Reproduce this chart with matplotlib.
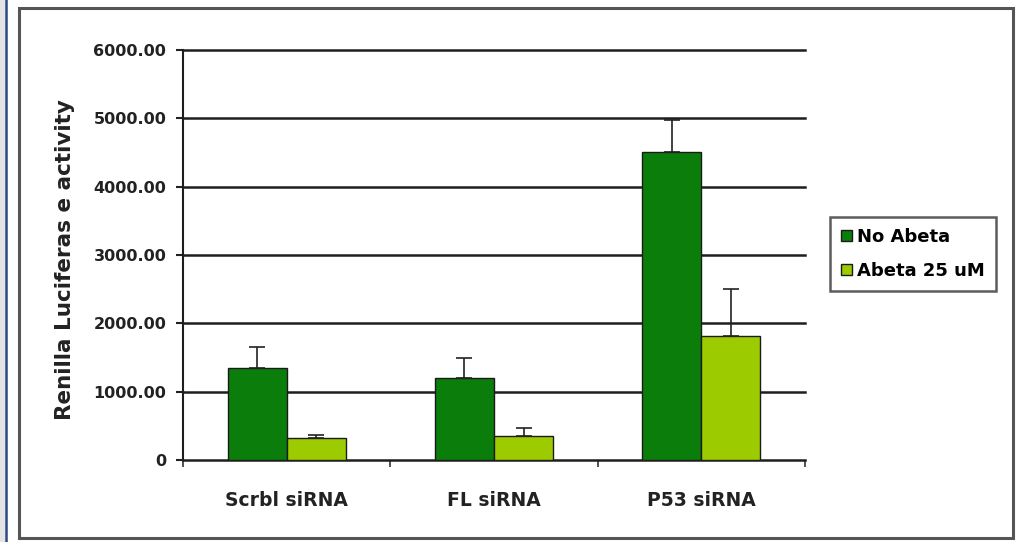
import matplotlib
matplotlib.use("Agg")
import matplotlib.pyplot as plt
import numpy as np
from matplotlib.patches import Rectangle
from matplotlib.lines import Line2D

categories = ["Scrbl siRNA", "FL siRNA", "P53 siRNA"]
series_names = ["No Abeta", "Abeta 25 uM"]
no_abeta = [1340, 1195, 4510]
no_abeta_err = [310, 300, 465]
abeta = [325, 355, 1815]
abeta_err = [40, 110, 685]
yticks = [0, 1000, 2000, 3000, 4000, 5000, 6000]
ytick_labels = ["0", "1000.00", "2000.00", "3000.00", "4000.00", "5000.00", "6000.00"]

dark_green = "#0a7d0a"
light_green = "#9ccc00"

fig = plt.figure(figsize=(10.27, 5.42), dpi=100)
fig.patch.set_facecolor("white")

# page background / frame
fig.patches.append(Rectangle((0, 0), 5/1027, 1, transform=fig.transFigure,
                             facecolor="#e4e4e4", edgecolor="none", zorder=0))
fig.add_artist(Line2D([5.5/1027, 5.5/1027], [0, 1], transform=fig.transFigure,
                      color="#2a4a80", lw=1.8))
fig.patches.append(Rectangle((19/1027, 1 - 538/542), (1013 - 19)/1027, (538 - 8)/542,
                             transform=fig.transFigure, facecolor="none",
                             edgecolor="#555555", lw=2.2, zorder=1))

ax = fig.add_axes([183/1027, 1 - 460/542, (805 - 183)/1027, (460 - 50)/542])
x = np.arange(len(categories))
w = 0.285
ax.bar(x - w/2, no_abeta, w, color=dark_green, edgecolor="#1a1a1a", lw=1.0,
       label=series_names[0], zorder=3)
ax.bar(x + w/2, abeta, w, color=light_green, edgecolor="#1a1a1a", lw=1.0,
       label=series_names[1], zorder=3)
ax.errorbar(x - w/2, no_abeta, yerr=[np.zeros(3), no_abeta_err], fmt="none",
            ecolor="#222222", elinewidth=1.2, capsize=6, capthick=1.2, zorder=4)
ax.errorbar(x + w/2, abeta, yerr=[np.zeros(3), abeta_err], fmt="none",
            ecolor="#222222", elinewidth=1.2, capsize=6, capthick=1.2, zorder=4)

ax.set_xlim(-0.5, 2.5)
ax.set_ylim(0, 6000)
ax.set_yticks(yticks)
ax.set_yticklabels(ytick_labels, fontsize=11.5, fontweight="bold", color="#222222")
ax.set_xticks(x)
ax.set_xticklabels(categories, fontsize=13.5, fontweight="bold", color="#222222")
ax.set_xticks([-0.5, 0.5, 1.5, 2.5], minor=True)
ax.tick_params(axis="x", which="major", length=0, pad=22)
ax.tick_params(axis="x", which="minor", length=5, width=1.2, direction="out", color="#333333")
ax.tick_params(axis="y", length=5, width=1.5, direction="out", pad=7, color="#222222")
for yv in yticks[1:]:
    ax.axhline(yv, color="#1e1e1e", lw=1.8, zorder=1, clip_on=False)
for s in ["top", "right"]:
    ax.spines[s].set_visible(False)
ax.spines["left"].set_linewidth(1.5)
ax.spines["bottom"].set_linewidth(1.8)
ax.spines["left"].set_color("#1e1e1e")
ax.spines["bottom"].set_color("#1e1e1e")

fig.text(65/1027, 1 - 260/542, "Renilla Luciferas e activity", rotation=90,
         ha="center", va="center", fontsize=15.5, fontweight="semibold", color="#222222")

handles, labels = ax.get_legend_handles_labels()
leg = fig.legend(handles, labels, loc="center left",
                 bbox_to_anchor=(830/1027, 1 - 254/542), frameon=True,
                 fancybox=False, edgecolor="#333333",
                 prop={"weight": "bold", "size": 13}, handlelength=0.6,
                 handleheight=0.6, handletextpad=0.3, labelspacing=0.9,
                 borderpad=0.6, borderaxespad=0)
leg.get_frame().set_linewidth(1.8)

fig.savefig("out.png", dpi=100)
